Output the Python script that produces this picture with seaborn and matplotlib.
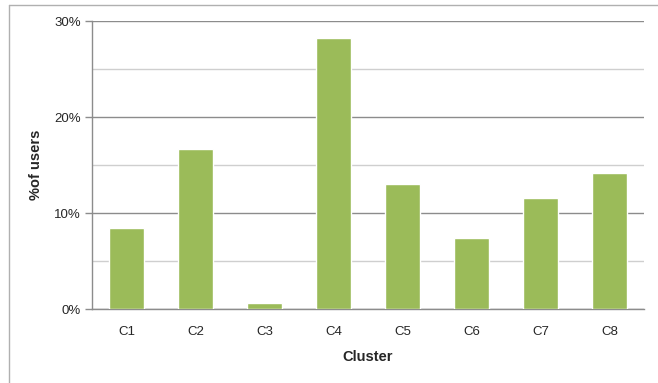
import matplotlib
matplotlib.use("Agg")
import matplotlib.pyplot as plt
from matplotlib.lines import Line2D
from matplotlib.ticker import MultipleLocator, PercentFormatter
import seaborn as sns
import pandas as pd

clusters = ["C1", "C2", "C3", "C4", "C5", "C6", "C7", "C8"]
share_pct = [8.4, 16.7, 0.6, 28.2, 13.0, 7.4, 11.6, 14.2]

sns.set_theme(style="white")
plt.rcParams["font.family"] = ["Liberation Sans", "DejaVu Sans"]

df = pd.DataFrame({"Cluster": clusters, "share": share_pct})

W, H = 658, 383
fig = plt.figure(figsize=(W / 100, H / 100), dpi=100)
ax = fig.add_axes([92 / W, 1 - 309 / H, (644 - 92) / W, (309 - 21) / H])

sns.barplot(data=df, x="Cluster", y="share", color="#9BBB59", saturation=1,
            width=0.51, ax=ax, zorder=3)

ax.set_ylim(0, 30)
ax.yaxis.set_major_locator(MultipleLocator(10))
ax.yaxis.set_minor_locator(MultipleLocator(5))
ax.yaxis.set_major_formatter(PercentFormatter(decimals=0))
ax.grid(axis="y", which="major", color="#8c8c8c", linewidth=1.0, zorder=0)
ax.grid(axis="y", which="minor", color="#cfcfcf", linewidth=1.0, zorder=0)
ax.grid(axis="x", visible=False)

for side in ["top", "right"]:
    ax.spines[side].set_visible(False)
ax.spines["left"].set_color("#8c8c8c")
ax.spines["bottom"].set_color("#8c8c8c")
ax.spines["left"].set_linewidth(1.0)
ax.spines["bottom"].set_linewidth(1.0)

ax.tick_params(axis="y", which="major", left=True, length=5, width=1.0,
               color="#8c8c8c", labelsize=9.5, pad=3)
ax.tick_params(axis="y", which="minor", left=False)
ax.tick_params(axis="x", bottom=False, labelsize=9.5, pad=6)

ax.set_xlabel("Cluster", fontsize=10.5, fontweight="bold", labelpad=9)
ax.set_ylabel("%of users", fontsize=10.5, fontweight="bold", labelpad=8)

# outer chart frame
fig.add_artist(Line2D([9 / W, 9 / W], [0, 1 - 5 / H], transform=fig.transFigure,
                      color="#b0b0b0", linewidth=1.0))
fig.add_artist(Line2D([9 / W, 1], [1 - 5 / H, 1 - 5 / H], transform=fig.transFigure,
                      color="#b0b0b0", linewidth=1.0))

fig.savefig("out.png", dpi=100)
